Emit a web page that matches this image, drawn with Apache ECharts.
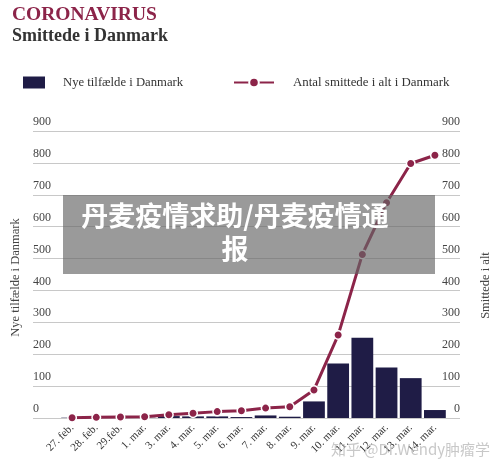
<!DOCTYPE html>
<html>
<head>
<meta charset="utf-8">
<script src="https://cdn.jsdelivr.net/npm/echarts@6/dist/echarts.min.js"></script>
<style>html,body{margin:0;padding:0;background:#fff}#c{width:500px;height:470px}</style>
</head>
<body>
<div id="c"></div>
<script>
const categories = ['27. feb.','28. feb.','29.feb.','1. mar.','3. mar.','4. mar.','5. mar.','6. mar.','7. mar.','8. mar.','9. mar.','10. mar.','11. mar.','12. mar.','13. mar.','14. mar.'];
const newCases = [1, 1, 1, 1, 6, 5, 5, 3, 8, 4, 52, 171, 252, 158, 125, 25];
const totalCases = [1, 2, 3, 4, 10, 15, 20, 23, 31, 35, 88, 260, 513, 675, 798, 824];
const yTicks = {min: 0, max: 900, interval: 100};

const SERIF = '"Liberation Serif", "DejaVu Serif", serif';
const maroon = '#8c2449';
const navy = '#1f1c46';

const chart = echarts.init(document.getElementById('c'), null, {renderer: 'canvas'});
chart.setOption({
  animation: false,
  backgroundColor: '#fff',
  title: [
    {text: 'CORONAVIRUS', left: 12, top: 5, padding: 0, textStyle: {fontFamily: SERIF, fontWeight: 'bold', fontSize: 19.5, color: maroon}},
    {text: 'Smittede i Danmark', left: 12, top: 27, padding: 0, textStyle: {fontFamily: SERIF, fontWeight: 'bold', fontSize: 18, color: '#333'}}
  ],
  legend: [
    {left: 23, top: 76, padding: 0, itemWidth: 22, itemHeight: 12, data: [{name: 'Nye tilfælde i Danmark', icon: 'rect'}],
     textStyle: {fontFamily: SERIF, fontSize: 12.7, color: '#333', padding: [0,0,0,13]}},
    {left: 233, top: 76, padding: 0, itemWidth: 40, itemHeight: 12, data: ['Antal smittede i alt i Danmark'],
     textStyle: {fontFamily: SERIF, fontSize: 12.9, color: '#333', padding: [0,0,0,14]}}
  ],
  grid: [
    {left: 33, right: 30, top: 131, bottom: 52},
    {left: 60, right: 53, top: 131, bottom: 52}
  ],
  xAxis: [
    {type: 'value', gridIndex: 0, show: false, min: 0, max: 1},
    {type: 'category', gridIndex: 1, data: categories, boundaryGap: true,
     axisLine: {show: false}, axisTick: {show: false},
     axisLabel: {rotate: 45, margin: 8, interval: 0, fontFamily: SERIF, fontSize: 11, color: '#333'}}
  ],
  yAxis: [
    {type: 'value', gridIndex: 0, position: 'left', min: yTicks.min, max: yTicks.max, interval: yTicks.interval,
     name: 'Nye tilfælde i Danmark', nameLocation: 'middle', nameRotate: 90, nameGap: 10,
     nameTextStyle: {fontFamily: SERIF, fontSize: 12.5, color: '#444', padding: [0, 6, 0, 0]},
     axisLine: {show: false}, axisTick: {show: false},
     splitLine: {show: true, lineStyle: {color: '#c8c8c8', width: 1}},
     axisLabel: {inside: true, margin: 0, verticalAlign: 'bottom', padding: [0,0,3,0], fontFamily: SERIF, fontSize: 12, color: '#444'}},
    {type: 'value', gridIndex: 0, position: 'right', min: yTicks.min, max: yTicks.max, interval: yTicks.interval,
     name: 'Smittede i alt', nameLocation: 'middle', nameRotate: 90, nameGap: 19,
     nameTextStyle: {fontFamily: SERIF, fontSize: 12.5, color: '#444', padding: [0, 22, 0, 0]},
     axisLine: {show: false}, axisTick: {show: false}, splitLine: {show: false},
     axisLabel: {inside: true, margin: 0, verticalAlign: 'bottom', padding: [0,0,3,0], fontFamily: SERIF, fontSize: 12, color: '#444'}},
    {type: 'value', gridIndex: 1, show: false, min: yTicks.min, max: yTicks.max},
    {type: 'value', gridIndex: 1, show: false, min: yTicks.min, max: yTicks.max}
  ],
  series: [
    {name: 'Nye tilfælde i Danmark', type: 'bar', xAxisIndex: 1, yAxisIndex: 2, data: newCases,
     barCategoryGap: '10%', itemStyle: {color: navy}, z: 2},
    {name: 'Antal smittede i alt i Danmark', type: 'line', xAxisIndex: 1, yAxisIndex: 3, data: totalCases,
     symbol: 'circle', symbolSize: 8.5, showSymbol: true,
     lineStyle: {color: maroon, width: 3},
     itemStyle: {color: maroon, borderColor: '#fff', borderWidth: 1.5}, z: 3}
  ],
  graphic: [
    {type: 'rect', left: 63, top: 195, shape: {width: 372, height: 79}, z: 100,
     style: {fill: 'rgba(102,102,102,0.66)'}},
    {type: 'text', x: 235, y: 199, z: 101,
     style: {text: '丹麦疫情求助/丹麦疫情通\n报', fill: '#fff', align: 'center', verticalAlign: 'top',
       font: 'bold 27px "Noto Sans CJK SC"', lineHeight: 33}},
    {type: 'text', x: 490, y: 449, z: 101,
     style: {text: '知乎 @Dr.Wendy肿瘤学', fill: 'rgba(190,190,190,0.85)', align: 'right', verticalAlign: 'middle',
       font: '15px "Noto Sans CJK SC"'}}
  ]
});
</script>
</body>
</html>
